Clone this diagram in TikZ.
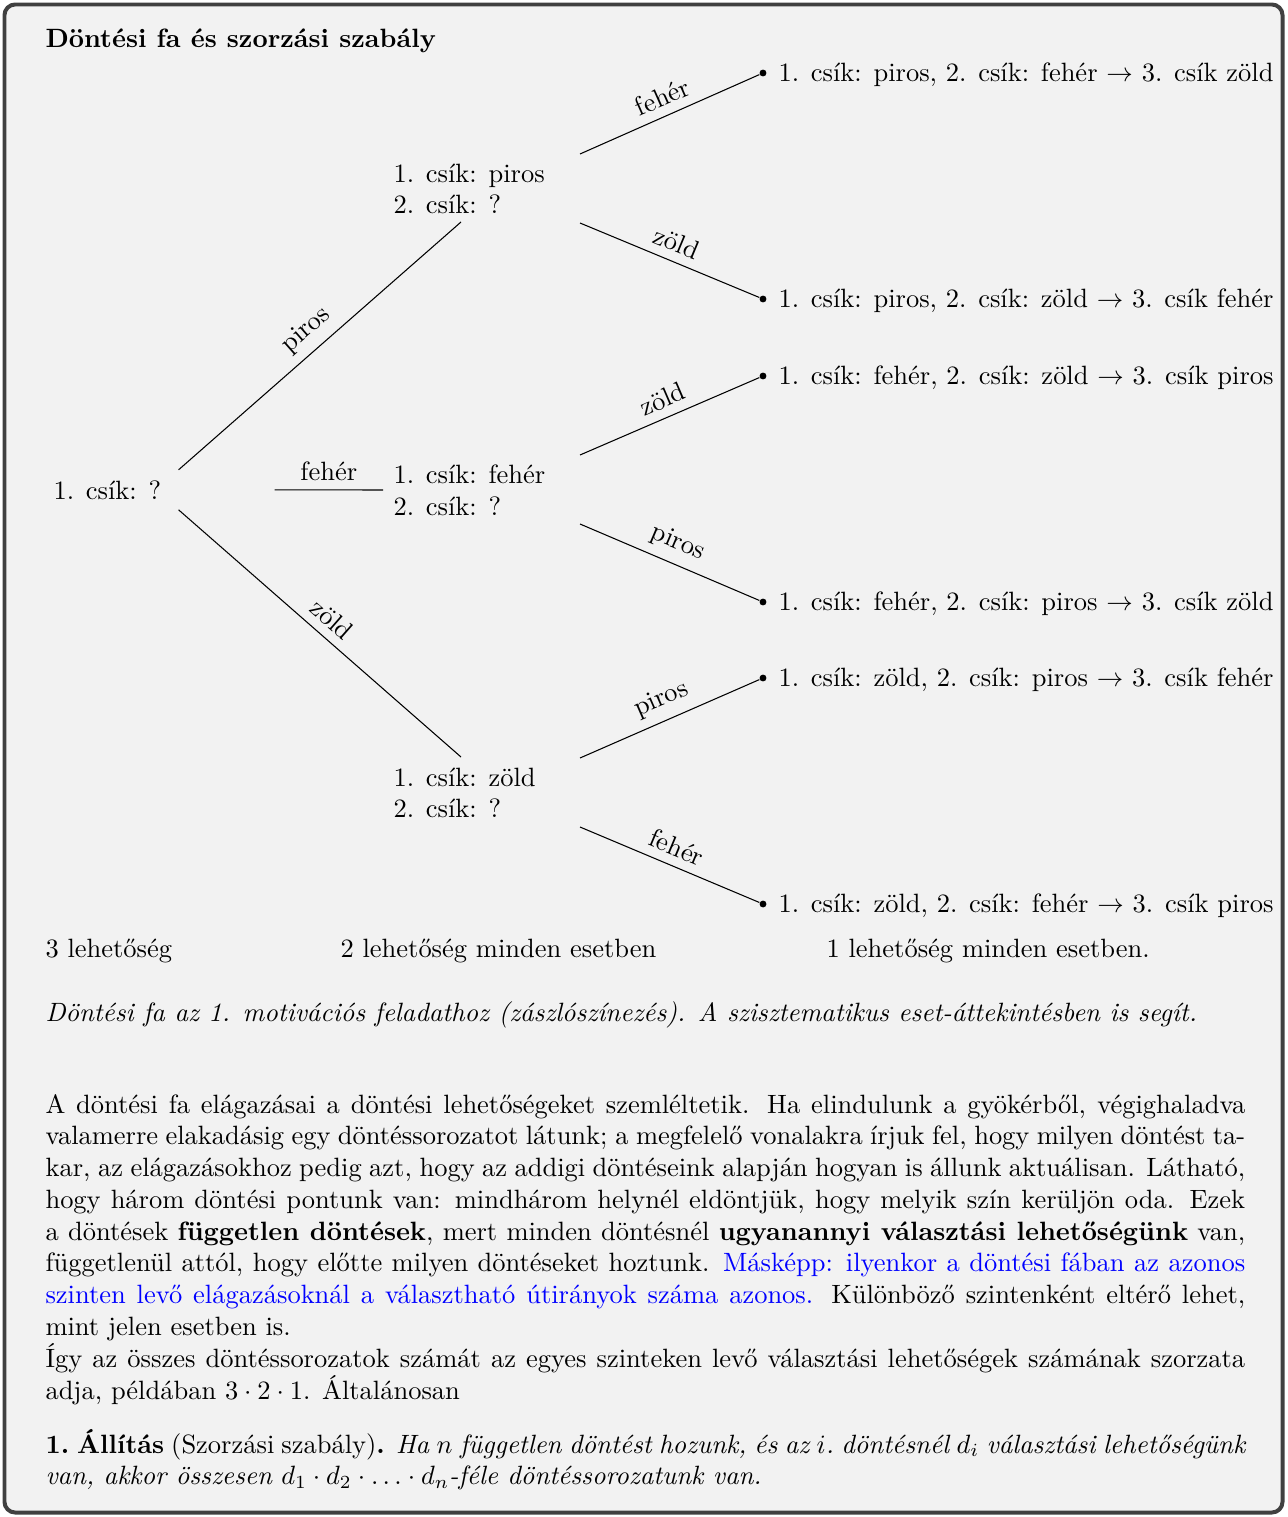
\documentclass[tikz,border=0pt]{standalone}
\usepackage{xcolor}
\usetikzlibrary{calc}
\definecolor{framegray}{HTML}{404040}
\definecolor{bggray}{HTML}{F2F2F2}
\newcommand{\jline}[1]{\hbox to 453pt{#1}}
\newcommand{\eline}[1]{\hbox to 453pt{#1\hfil}}
\tikzset{
  txt/.style={inner sep=0pt, anchor=base west},
  lvl/.style={inner sep=0pt, align=left, anchor=west},
  dotnode/.style={circle, fill=black, inner sep=0pt, minimum size=2.6pt},
  leaf/.style={inner sep=0pt, anchor=west},
  edge/.style={black, line width=0.4pt},
  lab/.style={midway, above, sloped},
}
\begin{document}
\begin{tikzpicture}[x=0.3776pt,y=-0.3776pt]
\useasboundingbox (0,0) rectangle (1287,1517);
\draw[framegray, line width=1.5pt, fill=bggray, rounded corners=4pt] (4.5,4.5) rectangle (1282.5,1512.5);

\node[txt, font=\bfseries] (title) at (45,47) {Döntési fa és szorzási szabály};

% tree nodes
\node[txt] (root) at (53,499) {1. csík: ?};
\node[lvl] (np) at (393,189) {1. csík: piros\\2. csík: ?};
\node[lvl] (nf) at (393,490) {1. csík: fehér\\2. csík: ?};
\node[lvl] (nz) at (393,793) {1. csík: zöld\\2. csík: ?};

\node[dotnode] (d1) at (763,73) {};
\node[dotnode] (d2) at (763,299) {};
\node[dotnode] (d3) at (763,376) {};
\node[dotnode] (d4) at (763,602) {};
\node[dotnode] (d5) at (763,678) {};
\node[dotnode] (d6) at (763,904) {};

\node[leaf] (l1) at (778,75) {1. csík: piros, 2. csík: fehér $\rightarrow$ 3. csík zöld};
\node[leaf] (l2) at (778,301) {1. csík: piros, 2. csík: zöld $\rightarrow$ 3. csík fehér};
\node[leaf] (l3) at (778,378) {1. csík: fehér, 2. csík: zöld $\rightarrow$ 3. csík piros};
\node[leaf] (l4) at (778,604) {1. csík: fehér, 2. csík: piros $\rightarrow$ 3. csík zöld};
\node[leaf] (l5) at (778,680) {1. csík: zöld, 2. csík: piros $\rightarrow$ 3. csík fehér};
\node[leaf] (l6) at (778,906) {1. csík: zöld, 2. csík: fehér $\rightarrow$ 3. csík piros};

% level 1 edges
\draw[edge] ([shift={(17,-20)}]root.east) -- node[lab]{piros} ([shift={(68,33)}]np.west);
\draw[edge] ([shift={(113,0)}]root.east) -- node[lab]{fehér} ([shift={(-10,0)}]nf.west);
\draw[edge] ([shift={(17,20)}]root.east) -- node[lab]{zöld} ([shift={(68,-36)}]nz.west);

% level 2 edges
\draw[edge] ([shift={(187,-35)}]np.west) -- node[lab]{fehér} (d1);
\draw[edge] ([shift={(187,34)}]np.west) -- node[lab]{zöld} (d2);
\draw[edge] ([shift={(187,-35)}]nf.west) -- node[lab]{zöld} (d3);
\draw[edge] ([shift={(187,34)}]nf.west) -- node[lab]{piros} (d4);
\draw[edge] ([shift={(187,-35)}]nz.west) -- node[lab]{piros} (d5);
\draw[edge] ([shift={(187,34)}]nz.west) -- node[lab]{fehér} (d6);

% bottom labels
\node[txt] (b1) at (45,957) {3 lehetőség};
\node[txt] (b2) at (340,957) {2 lehetőség minden esetben};
\node[txt] (b3) at (826,957) {1 lehetőség minden esetben.};

\node[txt, font=\itshape] (cap) at (45,1021) {Döntési fa az 1. motivációs feladathoz (zászlószínezés). A szisztematikus eset-áttekintésben is segít.};

% paragraph
\node[txt] (para) at (45,1113) {\vtop{%
\jline{A döntési fa elágazásai a döntési lehetőségeket szemléltetik. Ha elindulunk a gyökérből, végighaladva}
\jline{valamerre elakadásig egy döntéssorozatot látunk; a megfelelő vonalakra írjuk fel, hogy milyen döntést ta-}
\jline{kar, az elágazásokhoz pedig azt, hogy az addigi döntéseink alapján hogyan is állunk aktuálisan. Látható,}
\jline{hogy három döntési pontunk van: mindhárom helynél eldöntjük, hogy melyik szín kerüljön oda. Ezek}
\jline{a döntések \textbf{független döntések}, mert minden döntésnél \textbf{ugyanannyi választási lehetőségünk} van,}
\jline{függetlenül attól, hogy előtte milyen döntéseket hoztunk. \textcolor{blue}{Másképp: ilyenkor a döntési fában az azonos}}
\jline{\textcolor{blue}{szinten levő elágazásoknál a választható útirányok száma azonos.} Különböző szintenként eltérő lehet,}
\eline{mint jelen esetben is.}
\jline{Így az összes döntéssorozatok számát az egyes szinteken levő választási lehetőségek számának szorzata}
\eline{adja, példában $3\cdot2\cdot1$. Általánosan}}};

\node[txt] (thm) at (45,1453) {\vtop{%
\jline{\textbf{1.\ Állítás} (Szorzási szabály)\textbf{.} \itshape Ha $n$ független döntést hozunk, és az $i$.\ döntésnél $d_i$ választási lehetőségünk}
\eline{\itshape van, akkor összesen $d_1\cdot d_2\cdot\ldots\cdot d_n$-féle döntéssorozatunk van.}}};
\end{tikzpicture}
\end{document}
